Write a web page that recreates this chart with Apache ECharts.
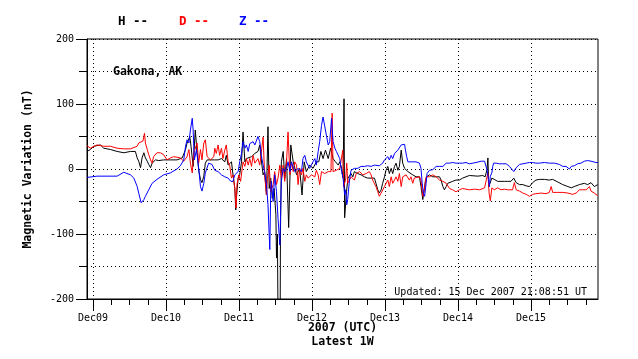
<!DOCTYPE html>
<html><head><meta charset="utf-8">
<script src="https://cdn.jsdelivr.net/npm/echarts@6/dist/echarts.min.js"></script>
<style>html,body{margin:0;padding:0;background:#fff}#c{width:638px;height:359px}</style>
</head><body><div id="c"></div>
<script>
// Time in hours since 2007-12-09 00:00 UTC
const dayTicks = [0, 24, 48, 72, 96, 120, 144];
const dayLabels = ['Dec09', 'Dec10', 'Dec11', 'Dec12', 'Dec13', 'Dec14', 'Dec15'];
const quarterTicks = [6, 12, 18, 30, 36, 42, 54, 60, 66, 78, 84, 90, 102, 108, 114, 126, 132, 138, 150, 156, 162];
const seriesNames = ['H', 'D', 'Z'];

const hPoints = [[-2.0,27],[-0.9,30],[0.2,35],[2.4,37],[3.5,32],[5.7,30],[7.9,27],[10.1,25],[12.3,27],[13.9,27],[14.5,17],[15.0,12],[15.6,2],[16.1,17],[16.7,25],[17.2,17],[17.8,12],[18.3,7],[18.9,2],[19.4,9],[20.5,14],[21.6,13],[23.2,14],[25.4,14],[27.6,14],[29.3,17],[30.4,30],[30.9,40],[31.8,50],[32.2,35],[32.9,4],[33.6,60],[34.2,25],[34.7,-1],[35.3,-16],[35.8,-21],[36.4,-11],[36.9,9],[37.5,14],[39.1,14],[40.0,14],[41.1,14],[42.2,16],[43.3,11],[43.8,21],[44.4,6],[45.5,11],[46.0,-9],[46.6,-30],[46.9,-63],[47.2,-40],[47.7,-14],[48.2,-9],[48.8,11],[49.3,57],[49.9,11],[50.4,16],[51.0,19],[52.1,19],[53.2,24],[54.2,27],[54.8,37],[55.3,14],[55.9,-9],[56.4,-4],[57.0,-40],[57.5,65],[57.9,-30],[58.4,-14],[58.9,-45],[59.5,-30],[60.1,-70],[60.3,-137],[60.6,-100],[60.8,-230],[61.5,-230],[61.6,-100],[61.9,11],[62.5,27],[63.0,-14],[63.6,16],[64.3,-90],[65.0,37],[65.8,11],[66.9,-9],[67.9,1],[68.7,-40],[69.4,11],[70.1,-4],[71.2,6],[72.3,1],[73.4,11],[74.2,11],[74.9,27],[75.6,16],[76.4,29],[77.3,16],[78.1,32],[78.9,16],[79.7,11],[80.6,6],[81.1,11],[81.7,1],[82.2,-14],[82.5,108],[82.7,-75],[83.3,-35],[83.8,-14],[84.3,-12],[84.8,-7],[85.4,-12],[85.9,-4],[87.0,-7],[88.1,-9],[89.2,-12],[90.3,-14],[91.4,-14],[91.9,-17],[92.5,-14],[93.0,-22],[93.6,-32],[94.1,-37],[94.7,-32],[95.2,-22],[95.8,-12],[96.3,-2],[96.9,4],[97.4,-7],[98.0,1],[98.5,-7],[99.1,4],[99.6,9],[100.2,-2],[100.7,4],[101.3,29],[101.8,9],[102.4,1],[102.9,-2],[103.5,-4],[104.0,-7],[105.1,-9],[106.2,-12],[107.3,-12],[107.8,-27],[108.4,-47],[108.9,-50],[109.3,-17],[109.7,-12],[110.6,-9],[111.7,-12],[112.8,-12],[113.9,-12],[114.4,-17],[115.0,-27],[115.5,-32],[116.1,-27],[116.6,-22],[117.2,-22],[118.2,-19],[119.3,-17],[120.4,-17],[121.5,-14],[122.6,-12],[123.7,-10],[126.5,-11],[128.1,-10],[128.9,-12],[129.5,-1],[129.8,17],[130.1,-27],[130.5,-27],[131.1,-14],[131.9,-16],[133.0,-19],[134.1,-19],[135.2,-19],[136.3,-19],[137.4,-19],[138.3,-14],[139.1,-21],[140.2,-24],[141.3,-24],[142.4,-26],[143.5,-27],[144.5,-21],[145.6,-17],[146.7,-16],[148.4,-16],[150.0,-17],[151.1,-16],[152.8,-20],[154.4,-24],[156.1,-27],[157.2,-29],[158.2,-27],[159.9,-24],[161.5,-22],[162.6,-24],[163.7,-21],[164.8,-27],[165.9,-24],[166.0,-24]];

const dPoints = [[-2.0,36],[-0.9,32],[1.3,37],[3.5,35],[5.7,35],[7.9,32],[10.1,31],[12.3,31],[14.5,35],[15.0,40],[15.6,40],[16.4,43],[16.9,55],[17.2,40],[17.8,30],[18.3,22],[18.9,14],[19.4,9],[19.9,19],[21.0,25],[22.1,25],[23.2,22],[24.3,14],[25.4,17],[26.5,19],[28.7,17],[29.8,12],[30.4,9],[30.9,19],[31.5,30],[32.0,9],[32.6,-6],[33.1,25],[34.2,40],[34.7,9],[35.3,30],[35.8,14],[36.4,40],[36.9,45],[37.5,19],[38.6,14],[39.7,19],[40.0,32],[40.5,24],[41.1,37],[41.6,21],[42.2,32],[42.7,16],[43.3,29],[43.8,37],[44.4,11],[44.9,6],[45.5,-14],[46.0,-9],[46.6,-30],[47.0,-60],[47.3,-24],[47.9,-9],[48.5,-19],[49.3,11],[49.9,4],[50.4,16],[51.0,6],[51.5,16],[52.1,4],[52.6,21],[53.2,9],[53.7,11],[54.2,16],[54.8,6],[55.9,49],[56.4,-9],[57.0,-40],[57.3,-14],[57.9,6],[58.4,-35],[59.2,-24],[59.7,-4],[60.3,-24],[60.8,-14],[61.4,6],[61.9,-14],[62.5,6],[63.0,-19],[63.6,11],[64.1,57],[64.7,-9],[65.2,11],[65.8,-4],[66.3,11],[66.9,6],[67.4,-24],[67.9,1],[68.5,-9],[69.0,1],[69.6,-19],[70.1,-9],[70.7,-14],[71.8,-9],[72.9,-12],[73.4,-2],[74.0,-9],[74.5,-24],[75.1,-4],[76.2,-7],[77.3,-4],[78.2,-4],[78.6,86],[78.9,-4],[80.0,-2],[81.1,1],[81.7,4],[82.1,29],[82.4,-27],[83.0,-17],[83.4,9],[83.7,-22],[84.3,-17],[84.8,-12],[85.4,-9],[85.9,-17],[86.5,-7],[87.0,-9],[87.6,-4],[88.7,-9],[89.8,-7],[90.8,-4],[91.4,-9],[91.9,-17],[92.5,-19],[93.0,-27],[93.6,-35],[94.1,-42],[94.7,-37],[95.2,-35],[95.8,-27],[96.3,-24],[96.9,-17],[97.4,-27],[98.0,-12],[98.5,-22],[99.1,-17],[99.6,-12],[100.2,-19],[100.7,-7],[101.3,-27],[101.8,-12],[102.4,-14],[102.9,-9],[104.0,-17],[104.5,-12],[105.1,-22],[105.6,-14],[106.2,-17],[107.3,-12],[107.8,-17],[108.4,-42],[108.9,-32],[109.5,-12],[110.6,-12],[111.7,-9],[112.8,-12],[113.9,-17],[115.0,-19],[116.1,-22],[117.2,-30],[118.2,-32],[119.3,-35],[120.4,-32],[121.5,-30],[122.6,-31],[123.7,-32],[125.4,-31],[127.1,-32],[128.7,-29],[129.2,-32],[129.8,-6],[130.2,-37],[130.6,-49],[131.1,-29],[131.9,-32],[133.0,-29],[134.1,-32],[135.2,-31],[136.3,-32],[137.9,-32],[138.5,-21],[139.1,-32],[140.2,-34],[141.3,-37],[142.4,-39],[143.5,-42],[144.5,-39],[145.6,-38],[147.3,-37],[148.9,-38],[150.0,-36],[150.6,-27],[151.1,-36],[152.8,-36],[154.4,-36],[156.1,-37],[157.7,-39],[158.8,-37],[159.9,-32],[161.0,-32],[162.1,-32],[163.2,-27],[163.7,-34],[164.8,-37],[165.9,-41],[166.0,-41]];

const zPoints = [[-2.0,-13],[1.3,-11],[7.9,-11],[10.1,-5],[12.3,-9],[13.4,-14],[14.5,-27],[15.0,-37],[15.8,-52],[16.1,-54],[16.7,-47],[17.2,-42],[18.3,-32],[19.4,-22],[21.0,-16],[23.2,-9],[25.4,-6],[27.6,0],[28.7,5],[29.8,14],[30.4,35],[30.9,45],[31.5,40],[32.0,60],[32.6,78],[32.9,60],[33.3,14],[34.0,30],[34.7,2],[35.3,-27],[35.8,-34],[36.4,-22],[36.9,-6],[38.0,9],[39.1,7],[40.0,-2],[41.1,-4],[42.2,-9],[43.3,-12],[44.4,-14],[45.3,-19],[46.0,-19],[46.6,-9],[47.1,-12],[47.7,-4],[48.2,11],[48.8,24],[49.3,42],[49.9,32],[50.4,37],[51.0,27],[51.5,39],[52.1,37],[52.6,42],[53.2,37],[54.2,50],[54.8,42],[55.3,21],[55.9,6],[56.4,-4],[57.0,-24],[57.5,-55],[58.1,-124],[58.4,-35],[58.6,-19],[59.2,-50],[59.7,-9],[60.3,-35],[60.8,-76],[61.4,-117],[61.9,-19],[62.5,1],[63.0,-4],[63.6,1],[64.1,11],[64.7,-4],[65.2,11],[66.3,-4],[67.4,1],[68.5,-4],[69.0,16],[69.6,21],[70.1,11],[71.2,1],[72.3,11],[72.9,16],[73.4,6],[74.0,27],[74.5,42],[75.1,67],[75.6,80],[76.2,83],[76.7,52],[77.3,37],[77.8,42],[78.4,78],[78.9,42],[79.5,32],[80.0,27],[80.6,29],[81.1,16],[81.7,-4],[82.2,-14],[82.7,-40],[83.0,-32],[83.4,-55],[83.7,-47],[84.3,-17],[84.8,-2],[85.4,-4],[85.9,1],[86.5,-2],[87.0,1],[88.1,4],[89.2,4],[90.3,5],[91.4,4],[92.5,6],[93.0,4],[94.1,5],[94.7,6],[95.2,9],[95.8,14],[96.3,16],[96.9,19],[97.4,14],[98.0,21],[98.5,16],[99.1,24],[99.6,21],[100.2,29],[100.7,32],[101.3,37],[101.8,34],[102.4,38],[102.7,29],[103.1,19],[103.5,11],[104.0,11],[105.1,11],[106.2,11],[106.7,9],[107.3,9],[107.8,1],[108.2,-22],[108.6,-37],[109.0,-42],[109.5,-22],[109.8,-7],[110.6,-2],[111.7,-1],[112.8,4],[113.9,4],[115.0,4],[116.1,9],[117.2,9],[118.2,10],[119.3,9],[120.4,9],[121.5,9],[122.6,10],[123.7,8],[125.9,10],[127.6,12],[128.7,12],[129.2,11],[129.5,-1],[130.0,-16],[130.3,-27],[130.6,-11],[131.1,-6],[131.4,4],[131.7,9],[132.5,9],[133.6,8],[134.7,8],[135.8,8],[136.9,4],[137.4,2],[138.3,-4],[139.1,2],[140.2,7],[141.3,8],[142.4,9],[143.5,10],[144.5,10],[145.6,9],[146.7,9],[148.4,10],[150.0,9],[151.7,9],[153.3,7],[154.4,4],[155.5,4],[156.6,0],[157.2,4],[158.2,5],[159.3,8],[160.4,9],[161.5,12],[162.6,13],[163.7,12],[165.3,10],[166.0,10]];

const colors = ['#000000', '#ff0000', '#0000ff'];
const MONO = '"DejaVu Sans Mono", "Liberation Mono", monospace';
const dotted = { color: '#000', width: 1, type: [1, 3] };

const chart = echarts.init(document.getElementById('c'), null, { renderer: 'canvas' });

function lineSeries(name, pts, color) {
  return {
    name: name, type: 'line', data: pts, showSymbol: false, symbol: 'none',
    lineStyle: { color: color, width: 1 }, itemStyle: { color: color },
    clip: true, animation: false, xAxisIndex: 0, yAxisIndex: 0
  };
}

const option = {
  animation: false,
  backgroundColor: '#ffffff',
  grid: { left: 87, top: 39, width: 511, height: 260, show: true, borderColor: '#000', borderWidth: 1,
    backgroundColor: 'transparent', containLabel: false, outerBoundsMode: 'none' },
  xAxis: [{
    type: 'value', min: -2, max: 166, position: 'bottom', gridIndex: 0,
    axisLine: { show: true, onZero: false, lineStyle: { color: '#000', width: 1 } },
    axisTick: { show: true, customValues: dayTicks, length: 12, lineStyle: { color: '#000' } },
    axisLabel: { show: true, customValues: dayTicks, formatter: function (v) { return dayLabels[dayTicks.indexOf(v)]; },
      color: '#000', fontFamily: MONO, fontSize: 10, margin: 14 },
    splitLine: { show: true, lineStyle: dotted },
    name: '2007 (UTC)\nLatest 1W', nameLocation: 'middle', nameGap: 22, nameMoveOverlap: false,
    nameTextStyle: { color: '#000', fontFamily: MONO, fontWeight: 'bold', fontSize: 11.5, lineHeight: 14 }
  }, {
    type: 'value', min: -2, max: 166, position: 'bottom', gridIndex: 0,
    axisLine: { show: false, onZero: false },
    axisTick: { show: true, customValues: quarterTicks, length: 6, lineStyle: { color: '#000' } },
    axisLabel: { show: false },
    splitLine: { show: false }
  }],
  yAxis: {
    type: 'value', min: -200, max: 200, interval: 100,
    axisLine: { show: true, onZero: false, lineStyle: { color: '#000', width: 1 } },
    axisTick: { show: true, length: 11, lineStyle: { color: '#000' } },
    minorTick: { show: true, splitNumber: 2, length: 8, lineStyle: { color: '#000' } },
    axisLabel: { color: '#000', fontFamily: MONO, fontSize: 10, margin: 13 },
    splitLine: { show: true, lineStyle: dotted },
    minorSplitLine: { show: true, lineStyle: dotted },
    name: 'Magnetic Variation (nT)', nameLocation: 'middle', nameGap: 53, nameRotate: 90, nameMoveOverlap: false,
    nameTextStyle: { color: '#000', fontFamily: MONO, fontWeight: 'bold', fontSize: 11.5 }
  },
  series: [
    lineSeries(seriesNames[0], hPoints, colors[0]),
    lineSeries(seriesNames[1], dPoints, colors[1]),
    lineSeries(seriesNames[2], zPoints, colors[2])
  ],
  graphic: [
    { type: 'text', x: 118, y: 22, style: { text: 'H --', fill: colors[0], font: 'bold 12.5px ' + MONO, verticalAlign: 'middle', align: 'left' } },
    { type: 'text', x: 179, y: 22, style: { text: 'D --', fill: colors[1], font: 'bold 12.5px ' + MONO, verticalAlign: 'middle', align: 'left' } },
    { type: 'text', x: 239, y: 22, style: { text: 'Z --', fill: colors[2], font: 'bold 12.5px ' + MONO, verticalAlign: 'middle', align: 'left' } },
    { type: 'text', x: 113, y: 72, style: { text: 'Gakona, AK', fill: '#000', font: 'bold 11.5px ' + MONO, verticalAlign: 'middle', align: 'left' } },
    { type: 'text', x: 587, y: 292, style: { text: 'Updated: 15 Dec 2007 21:08:51 UT', fill: '#000', font: '10px ' + MONO, verticalAlign: 'middle', align: 'right' } }
  ]
};
chart.setOption(option);
</script>
</body></html>
